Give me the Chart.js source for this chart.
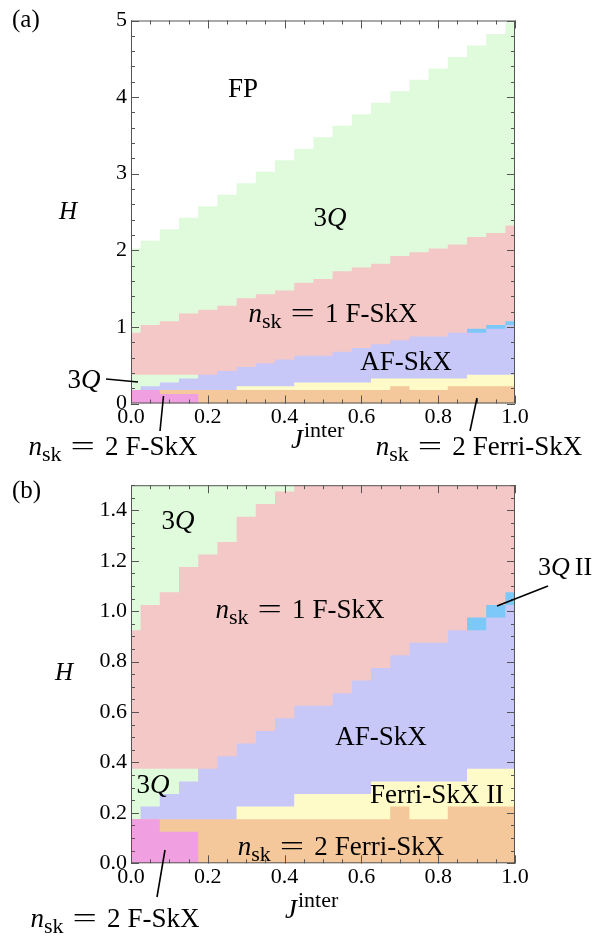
<!DOCTYPE html>
<html>
<head>
<meta charset="utf-8">
<script src="https://cdn.jsdelivr.net/npm/chart.js@4.4.1/dist/chart.umd.min.js"></script>
<style>
    body { margin: 0; background: #fff; width: 612px; height: 936px; overflow: hidden; }
    canvas { position: absolute; left: 0; }
    #graficoA { top: 0; }
    #graficoB { top: 468px; }
</style>
</head>
<body>
<canvas id="graficoA" width="612" height="468"></canvas>
<canvas id="graficoB" width="612" height="468"></canvas>
<script>
// J^inter columns
var jinter = [0.0, 0.05, 0.1, 0.15, 0.2, 0.25, 0.3, 0.35, 0.4, 0.45, 0.5, 0.55, 0.6, 0.65, 0.7, 0.75, 0.8, 0.85, 0.9, 0.95, 1.0];

// upper edge (H) of each phase in every column
var topoFP3Q = [2.025, 2.125, 2.275, 2.425, 2.575, 2.725, 2.875, 3.025, 3.175, 3.325, 3.475, 3.625, 3.775, 3.925, 4.075, 4.225, 4.375, 4.525, 4.675, 4.825, 4.975];
var topoFSkX1 = [0.925, 1.025, 1.075, 1.175, 1.225, 1.275, 1.375, 1.425, 1.475, 1.575, 1.625, 1.725, 1.775, 1.825, 1.925, 1.975, 2.025, 2.075, 2.175, 2.225, 2.325];
var topo3QBaixo = [0.375, 0.375, 0.375, 0.375, 0, 0, 0, 0, 0, 0, 0, 0, 0, 0, 0, 0, 0, 0, 0, 0, 0];
var topo3QII = [0, 0, 0, 0, 0, 0, 0, 0, 0, 0, 0, 0, 0, 0, 0, 0, 0, 0, 0.975, 1.025, 1.075];
var topoAFSkX = [0.175, 0.225, 0.275, 0.325, 0.375, 0.425, 0.475, 0.525, 0.575, 0.625, 0.625, 0.675, 0.725, 0.775, 0.825, 0.875, 0.875, 0.925, 0.925, 0.975, 1.025];
var topoFerriII = [0, 0, 0, 0, 0, 0, 0.225, 0.225, 0.225, 0.275, 0.275, 0.275, 0.275, 0.325, 0.325, 0.325, 0.325, 0.325, 0.375, 0.375, 0.375];
var topoFerri2 = [0.175, 0.175, 0.175, 0.175, 0.175, 0.175, 0.175, 0.175, 0.175, 0.175, 0.175, 0.175, 0.175, 0.175, 0.225, 0.175, 0.175, 0.225, 0.225, 0.225, 0.225];
var topoFSkX2 = [0.175, 0.175, 0.125, 0.125, 0, 0, 0, 0, 0, 0, 0, 0, 0, 0, 0, 0, 0, 0, 0, 0, 0];

var ticksX = [0, 0.2, 0.4, 0.6, 0.8, 1.0];
var rotulosX = ['0.0', '0.2', '0.4', '0.6', '0.8', '1.0'];
var ticksYA = [0, 1, 2, 3, 4, 5];
var rotulosYA = ['0', '1', '2', '3', '4', '5'];
var ticksYB = [0, 0.2, 0.4, 0.6, 0.8, 1.0, 1.2, 1.4];
var rotulosYB = ['0.0', '0.2', '0.4', '0.6', '0.8', '1.0', '1.2', '1.4'];

var SERIF = '"Liberation Serif", "Times New Roman", serif';

function faixa(valores, cor) {
    return {
        data: jinter.map(function (j, i) { return { x: j, y: valores[i] }; }),
        backgroundColor: cor,
        borderColor: 'rgba(0,0,0,0)',
        borderWidth: 0,
        pointRadius: 0,
        stepped: 'middle',
        fill: 'origin'
    };
}

function conjuntos() {
    // first dataset is painted on top
    return [
        faixa(topoFSkX2, '#f0a0e0'),
        faixa(topoFerri2, '#f5c89b'),
        faixa(topoFerriII, '#fffbc9'),
        faixa(topoAFSkX, '#c8c8f8'),
        faixa(topo3QII, '#7cc8f8'),
        faixa(topo3QBaixo, '#dffbdc'),
        faixa(topoFSkX1, '#f5c8c8'),
        faixa(topoFP3Q, '#dffbdc')
    ];
}

function marcasMenores(ini, fim, passo) {
    var m = [];
    for (var v = ini; v <= fim + 1e-9; v += passo) m.push(Math.round(v * 1000) / 1000);
    return m;
}

// frame with inward ticks on all four sides
var moldura = {
    id: 'moldura',
    afterDatasetsDraw: function (chart, args, op) {
        var a = chart.chartArea, ctx = chart.ctx;
        var sx = chart.scales.x, sy = chart.scales.y;
        ctx.save();
        ctx.strokeStyle = '#555';
        ctx.lineWidth = 1;
        ctx.strokeRect(a.left + 0.5, a.top + 0.5, a.right - a.left - 1, a.bottom - a.top - 1);
        ctx.beginPath();
        function marcaX(v, len) {
            var p = Math.round(sx.getPixelForValue(v)) + 0.5;
            ctx.moveTo(p, a.bottom); ctx.lineTo(p, a.bottom - len);
            ctx.moveTo(p, a.top); ctx.lineTo(p, a.top + len);
        }
        function marcaY(v, len) {
            var p = Math.round(sy.getPixelForValue(v)) + 0.5;
            ctx.moveTo(a.left, p); ctx.lineTo(a.left + len, p);
            ctx.moveTo(a.right, p); ctx.lineTo(a.right - len, p);
        }
        op.menoresX.forEach(function (v) { marcaX(v, 4); });
        op.maioresX.forEach(function (v) { marcaX(v, 8); });
        op.menoresY.forEach(function (v) { marcaY(v, 4); });
        op.maioresY.forEach(function (v) { marcaY(v, 8); });
        ctx.stroke();
        ctx.restore();
    }
};

function textoRico(ctx, partes, x, y, tam, alinhar) {
    var esticaIgual = 1.6;
    function fonte(t) {
        if (t === 'i') return 'italic ' + tam + 'px ' + SERIF;
        if (t === 'sub' || t === 'sup') return Math.round(tam * 0.8) + 'px ' + SERIF;
        return tam + 'px ' + SERIF;
    }
    function medir(p) {
        ctx.font = fonte(p[1]);
        var w = ctx.measureText(p[0]).width;
        return p[1] === 'eq' ? w * esticaIgual : w;
    }
    var largura = 0;
    partes.forEach(function (p) {
        largura += typeof p === 'number' ? p : medir(p);
    });
    var cx = alinhar === 'left' ? x : x - largura / 2;
    ctx.textAlign = 'left';
    ctx.textBaseline = 'alphabetic';
    ctx.fillStyle = '#000';
    partes.forEach(function (p) {
        if (typeof p === 'number') { cx += p; return; }
        var w = medir(p);
        var dy = 0;
        if (p[1] === 'sub') dy = tam * 0.24;
        if (p[1] === 'sup') dy = -tam * 0.4;
        if (p[1] === 'eq') {
            ctx.save();
            ctx.translate(cx, y);
            ctx.scale(esticaIgual, 1);
            ctx.fillText(p[0], 0, 0);
            ctx.restore();
        } else {
            ctx.fillText(p[0], cx, y + dy);
        }
        cx += w;
    });
}

var anotacoes = {
    id: 'anotacoes',
    afterDraw: function (chart, args, op) {
        var ctx = chart.ctx;
        ctx.save();
        ctx.strokeStyle = '#000';
        ctx.lineWidth = 1.6;
        op.linhas.forEach(function (l) {
            ctx.beginPath();
            ctx.moveTo(l[0], l[1]);
            ctx.lineTo(l[2], l[3]);
            ctx.stroke();
        });
        op.textos.forEach(function (t) {
            textoRico(ctx, t.p, t.x, t.y, t.s, t.a);
        });
        ctx.restore();
    }
};

var nsk = [['n', 'i'], ['sk', 'sub'], 9, ['=', 'eq'], 10];
var tresQ = [['3', 'r'], ['Q', 'i']];
var jTitulo = [['J', 'i'], 1, ['inter', 'sup']];

function montarGrafico(id, cfg) {
    var ctx = document.getElementById(id).getContext('2d');
    return new Chart(ctx, {
        type: 'line',
        data: { datasets: conjuntos() },
        options: {
            responsive: false,
            animation: false,
            events: [],
            layout: { padding: { left: 0, right: 97, top: cfg.topo, bottom: 0 } },
            plugins: {
                legend: { display: false },
                tooltip: { enabled: false },
                moldura: {
                    maioresX: ticksX,
                    menoresX: marcasMenores(0, 1, 0.05),
                    maioresY: cfg.ticksY,
                    menoresY: marcasMenores(0, cfg.maxY, cfg.menorY)
                },
                anotacoes: { textos: cfg.textos, linhas: cfg.linhas }
            },
            scales: {
                x: {
                    type: 'linear',
                    min: 0,
                    max: 1,
                    grid: { display: false, drawTicks: false, tickLength: 0 },
                    border: { display: false },
                    afterFit: function (s) { s.height = cfg.alturaX; },
                    afterBuildTicks: function (s) { s.ticks = ticksX.map(function (v) { return { value: v }; }); },
                    ticks: {
                        autoSkip: false,
                        maxRotation: 0,
                        padding: 1,
                        color: '#000',
                        font: { family: SERIF, size: 22 },
                        callback: function (v, i) { return rotulosX[i]; }
                    }
                },
                y: {
                    type: 'linear',
                    min: 0,
                    max: cfg.maxY,
                    grid: { display: false, drawTicks: false, tickLength: 0 },
                    border: { display: false },
                    afterFit: function (s) { s.width = 131; },
                    afterBuildTicks: function (s) { s.ticks = cfg.ticksY.map(function (v) { return { value: v }; }); },
                    ticks: {
                        autoSkip: false,
                        padding: 4,
                        color: '#000',
                        font: { family: SERIF, size: 22 },
                        callback: function (v, i) { return cfg.rotulosY[i]; }
                    }
                }
            }
        },
        plugins: [moldura, anotacoes]
    });
}

montarGrafico('graficoA', {
    topo: 20.5,
    alturaX: 64.5,
    maxY: 5,
    menorY: 0.2,
    ticksY: ticksYA,
    rotulosY: rotulosYA,
    linhas: [
        [106, 379, 138, 382],
        [160, 431, 163.5, 396],
        [470, 431, 477, 398]
    ],
    textos: [
        { p: [['(a)', 'r']], x: 12, y: 27, s: 25, a: 'left' },
        { p: [['H', 'i']], x: 68, y: 219, s: 25 },
        { p: [['FP', 'r']], x: 243, y: 97, s: 27 },
        { p: tresQ, x: 330, y: 226, s: 27 },
        { p: nsk.concat([['1', 'r'], 7, ['F-SkX', 'r']]), x: 333, y: 322, s: 27 },
        { p: [['AF-SkX', 'r']], x: 406, y: 370, s: 27 },
        { p: tresQ, x: 84, y: 388, s: 27 },
        { p: nsk.concat([['2', 'r'], 7, ['F-SkX', 'r']]), x: 113, y: 455, s: 27 },
        { p: nsk.concat([['2', 'r'], 7, ['Ferri-SkX', 'r']]), x: 479, y: 455, s: 27 },
        { p: jTitulo, x: 291, y: 448, s: 27, a: 'left' }
    ]
});

montarGrafico('graficoB', {
    topo: 12.7,
    alturaX: 72.7,
    maxY: 1.5,
    menorY: 0.05,
    ticksY: ticksYB,
    rotulosY: rotulosYB,
    linhas: [
        [497, 138, 548, 118],
        [157, 429, 165, 382]
    ],
    textos: [
        { p: [['(b)', 'r']], x: 12, y: 30, s: 25, a: 'left' },
        { p: [['H', 'i']], x: 64, y: 212, s: 25 },
        { p: tresQ, x: 178, y: 61, s: 27 },
        { p: nsk.concat([['1', 'r'], 7, ['F-SkX', 'r']]), x: 300, y: 150, s: 27 },
        { p: tresQ.concat([5, ['II', 'r']]), x: 565, y: 107, s: 26 },
        { p: [['AF-SkX', 'r']], x: 381, y: 277, s: 27 },
        { p: tresQ, x: 153, y: 325, s: 27 },
        { p: [['Ferri-SkX II', 'r']], x: 437, y: 335, s: 27 },
        { p: nsk.concat([['2', 'r'], 7, ['Ferri-SkX', 'r']]), x: 341, y: 387, s: 27 },
        { p: nsk.concat([['2', 'r'], 7, ['F-SkX', 'r']]), x: 115, y: 459, s: 27 },
        { p: jTitulo, x: 285, y: 450, s: 27, a: 'left' }
    ]
});
</script>
</body>
</html>
